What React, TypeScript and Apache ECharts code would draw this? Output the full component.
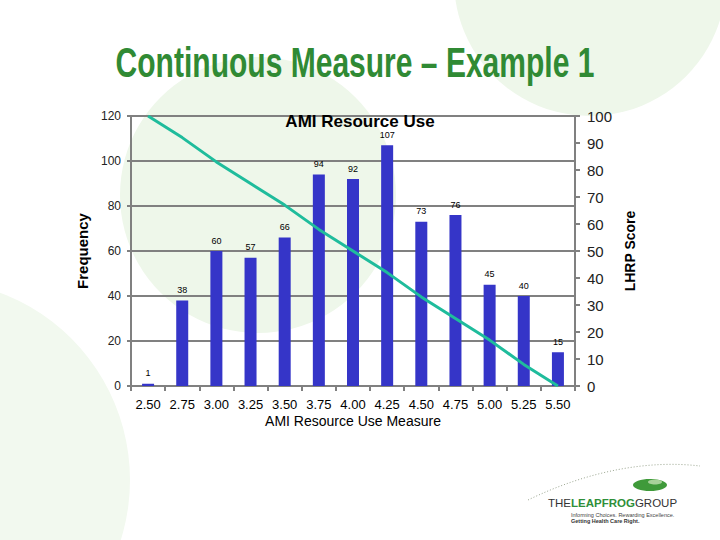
import React, { useEffect, useRef } from "react";
import * as echarts from "echarts";

const categories = ["2.50", "2.75", "3.00", "3.25", "3.50", "3.75", "4.00", "4.25", "4.50", "4.75", "5.00", "5.25", "5.50"];
const frequency = [1, 38, 60, 57, 66, 94, 92, 107, 73, 76, 45, 40, 15];
const lhrpScore = [100, 92, 83, 75, 67, 58, 50, 42, 33, 25, 17, 8, 0];
const leftTicks = { min: 0, max: 120, interval: 20 };
const rightTicks = { min: 0, max: 100, interval: 10 };

export default function App() {
  const ref = useRef<HTMLDivElement>(null);
  useEffect(() => {
    document.body.style.margin = "0";
    const chart = echarts.init(ref.current!, null, { renderer: "svg" });
    const font = "'Liberation Sans', Arial, sans-serif";
    chart.setOption({
      animation: false,
      backgroundColor: "#ffffff",
      textStyle: { fontFamily: font },
      title: {
        text: "AMI Resource Use",
        left: 355,
        top: 108,
        textAlign: "center",
        textStyle: { fontSize: 17, fontWeight: "bold", color: "#000", fontFamily: font },
      },
      graphic: {
        elements: [
          { type: "circle", z: -10, shape: { cx: 590, cy: -20, r: 136 }, style: { fill: "#eef7ea" } },
          { type: "circle", z: -10, shape: { cx: 258, cy: 195, r: 138 }, style: { fill: "#eef7ea" } },
          { type: "circle", z: -10, shape: { cx: -70, cy: 480, r: 200 }, style: { fill: "#f2f9ef" } },
          {
            type: "text",
            z: 10,
            x: 355,
            y: 63,
            scaleX: 0.715,
            style: {
              text: "Continuous Measure – Example 1",
              fontSize: 42,
              fontWeight: "bold",
              fontFamily: font,
              fill: "#308a34",
              align: "center",
              verticalAlign: "middle",
            },
          },
          {
            type: "bezierCurve",
            z: 5,
            shape: { x1: 528, y1: 500, x2: 700, y2: 466, cpx1: 590, cpy1: 470, cpx2: 650, cpy2: 460 },
            style: { stroke: "#9aa58f", lineWidth: 1, lineDash: [1, 2], fill: "none" },
          },
          { type: "ellipse", z: 6, shape: { cx: 650, cy: 485, rx: 17, ry: 6 }, style: { fill: "#3f9a3a" } },
          { type: "ellipse", z: 7, shape: { cx: 655, cy: 482, rx: 7, ry: 2.5 }, style: { fill: "#a8d29a" } },
          {
            type: "text",
            z: 10,
            x: 548,
            y: 503,
            style: {
              text: "{a|THE}{b|LEAPFROG}{a|GROUP}",
              verticalAlign: "middle",
              rich: {
                a: { fontSize: 11.5, fontFamily: font, fill: "#333333", color: "#333333" },
                b: { fontSize: 11.5, fontFamily: font, fontWeight: "bold", fill: "#2f8f3a", color: "#2f8f3a" },
              },
            },
          },
          {
            type: "text",
            z: 10,
            x: 571,
            y: 515,
            style: { text: "Informing Choices. Rewarding Excellence.", fontSize: 5.5, fontFamily: font, fill: "#444", verticalAlign: "middle" },
          },
          {
            type: "text",
            z: 10,
            x: 571,
            y: 521,
            style: { text: "Getting Health Care Right.", fontSize: 5.5, fontWeight: "bold", fontFamily: font, fill: "#333", verticalAlign: "middle" },
          },
        ],
      },
      grid: { left: 131, right: 145, top: 116, bottom: 154, containLabel: false },
      xAxis: {
        type: "category",
        data: categories,
        name: "AMI Resource Use Measure",
        nameLocation: "middle",
        nameGap: 28,
        nameTextStyle: { fontSize: 14, color: "#000", fontFamily: font },
        axisLine: { lineStyle: { color: "#808080", width: 2 } },
        axisTick: { show: true, alignWithLabel: false, length: 5, lineStyle: { color: "#808080", width: 2 } },
        axisLabel: { fontSize: 13, color: "#000", margin: 12, interval: 0 },
      },
      yAxis: [
        {
          type: "value",
          ...leftTicks,
          position: "left",
          name: "Frequency",
          nameLocation: "middle",
          nameRotate: 90,
          nameGap: 33,
          nameTextStyle: { fontSize: 15, fontWeight: "bold", color: "#000", fontFamily: font },
          axisLine: { show: true, lineStyle: { color: "#808080", width: 2 } },
          axisTick: { show: true, length: 4, lineStyle: { color: "#808080", width: 2 } },
          axisLabel: { fontSize: 12, color: "#222", margin: 10 },
          splitLine: { show: true, lineStyle: { color: "#808080", width: 2 } },
        },
        {
          type: "value",
          ...rightTicks,
          position: "right",
          name: "LHRP Score",
          nameLocation: "middle",
          nameRotate: 90,
          nameGap: 42,
          nameTextStyle: { fontSize: 14, fontWeight: "bold", color: "#000", fontFamily: font },
          axisLine: { show: true, lineStyle: { color: "#808080", width: 2 } },
          axisTick: { show: true, length: 5, lineStyle: { color: "#808080", width: 2 } },
          axisLabel: { fontSize: 15, color: "#222", margin: 12 },
          splitLine: { show: false },
        },
      ],
      series: [
        {
          type: "bar",
          data: frequency,
          barWidth: 12,
          itemStyle: { color: "#3535c8" },
          label: { show: true, position: "top", fontSize: 9, color: "#000", distance: 6 },
          z: 2,
        },
        {
          type: "line",
          yAxisIndex: 1,
          data: lhrpScore,
          showSymbol: false,
          symbol: "none",
          lineStyle: { color: "#1fbc9c", width: 3 },
          z: 3,
        },
      ],
    });
    return () => chart.dispose();
  }, []);
  return <div ref={ref} style={{ position: "absolute", left: 0, top: 0, width: 720, height: 540 }} />;
}
